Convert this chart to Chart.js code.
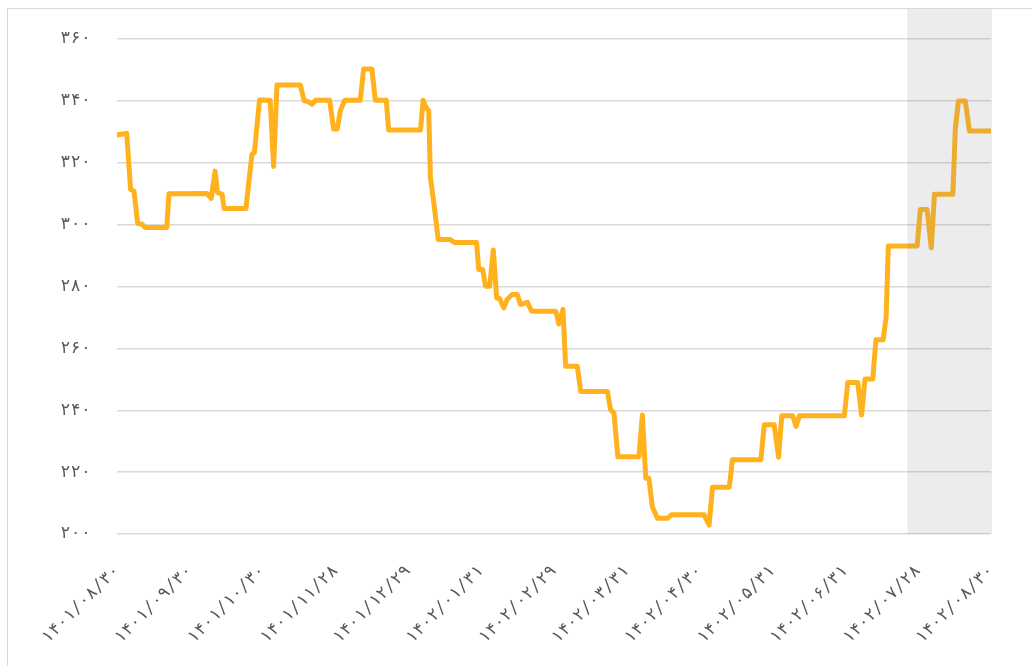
<!DOCTYPE html>
<html lang="fa">
<head>
    <meta charset="UTF-8">
    <title>Price Chart</title>
    <script src="https://cdn.jsdelivr.net/npm/chart.js"></script>
    <style>
        body { margin: 0; background: #fff; overflow: hidden; }
        /* рамка вокруг графика: видны только верх и левый край */
        .frame {
            position: absolute; left: 7px; top: 8px;
            width: 1100px; height: 700px;
            border: 1px solid #d9d9d9;
        }
        .chart-container {
            position: absolute; left: 0; top: 0;
            width: 1032px; height: 666px;
        }
    </style>
</head>
<body>
    <div class="frame"></div>
    <div class="chart-container">
        <canvas id="priceChart"></canvas>
    </div>

    <script>
        // tick labels on the x axis (every 30 days)
        const xTickLabels = [
            '۱۴۰۱/۰۸/۳۰', '۱۴۰۱/۰۹/۳۰', '۱۴۰۱/۱۰/۳۰', '۱۴۰۱/۱۱/۲۸', '۱۴۰۱/۱۲/۲۹',
            '۱۴۰۲/۰۱/۳۱', '۱۴۰۲/۰۲/۲۹', '۱۴۰۲/۰۳/۳۱', '۱۴۰۲/۰۴/۳۰', '۱۴۰۲/۰۵/۳۱',
            '۱۴۰۲/۰۶/۳۱', '۱۴۰۲/۰۷/۲۸', '۱۴۰۲/۰۸/۳۰'
        ];

        // day number of each turning point of the line
        const days = [
            0, 4, 5.6, 7, 8.5, 10.3, 11.5, 20.5, 21.4, 37,
            38.8, 40.4, 41.4, 43.3, 44.1, 53.1, 55.6, 56.6, 58.7, 63.1,
            64.5, 65.9, 75.5, 77.1, 78.4, 80.3, 81.7, 87.6, 89.2, 90.7,
            92, 93.8, 100.2, 101.6, 105, 106.4, 110.9, 111.9, 125, 126.1,
            127.2, 128.4, 129.1, 130.5, 132.3, 137.1, 139.1, 148.1, 149, 150.6,
            151.8, 153.5, 155, 156.4, 157.6, 159.3, 160.7, 162.8, 164.9, 166.2,
            169, 170.8, 180.7, 182, 183.7, 184.8, 189.6, 191, 202, 203.3,
            204.7, 206.3, 215, 216.4, 217.8, 219.1, 220.5, 222.6, 226.7, 228.4,
            241.8, 243.9, 245.3, 252.2, 253.5, 265.2, 266.6, 270.7, 272.5, 273.8,
            278.3, 279.7, 281.1, 299.6, 301, 305.1, 306.7, 308.1, 311.3, 312.6,
            315.6, 316.8, 317.7, 329.6, 330.9, 333.7, 335.4, 336.7, 344.3, 345.3,
            346.6, 349.4, 351.1, 360
        ];

        // price at each turning point
        const prices = [
            329, 329.5, 311.4, 310.8, 300.4, 300.1, 299.1, 299.1, 310, 310.1,
            308.5, 317.3, 310.4, 309.8, 305.2, 305.2, 322.8, 323.3, 340.3, 340.2,
            318.8, 345.1, 345.1, 340, 339.9, 338.9, 340.2, 340.2, 330.9, 330.9,
            336.8, 340.2, 340.2, 350.3, 350.3, 340.2, 340.2, 330.6, 330.6, 340.2,
            338, 336.8, 315.2, 307.1, 295.2, 295.2, 294.2, 294.2, 285.5, 285.5,
            280.1, 280.1, 291.8, 276.3, 276.1, 273.1, 275.8, 277.4, 277.4, 274.2,
            274.9, 272, 272, 267.9, 272.6, 254.2, 254.2, 246.1, 246.1, 240.2,
            239.1, 225, 225, 238.5, 218, 218, 208.8, 205.1, 205.1, 206.2,
            206.2, 202.9, 215.1, 215.1, 224, 224, 235.3, 235.3, 224.8, 238.2,
            238.2, 234.8, 238.2, 238.2, 249, 249, 238.5, 250.1, 250.1, 262.8,
            262.8, 270.2, 293.1, 293.1, 304.9, 304.9, 292.5, 309.8, 309.8, 330.9,
            340, 340, 330.3, 330.3
        ];

        // shaded period at the right end (from this day to the end)
        const shadeFromDay = 325.5;

        const faDigits = '۰۱۲۳۴۵۶۷۸۹';
        const toFa = n => String(n).replace(/\d/g, d => faDigits[d]);

        // серый прямоугольник поверх линии
        const shadePlugin = {
            id: 'shade',
            afterDatasetsDraw(chart) {
                const { ctx, chartArea, scales } = chart;
                const x0 = scales.x.getPixelForValue(shadeFromDay);
                ctx.save();
                ctx.fillStyle = 'rgba(140, 140, 140, 0.17)';
                ctx.fillRect(x0, 9, chartArea.right + 1 - x0, chartArea.bottom - 9);
                ctx.restore();
            }
        };

        const ctx = document.getElementById('priceChart').getContext('2d');
        new Chart(ctx, {
            type: 'line',
            data: {
                datasets: [{
                    data: days.map((d, i) => ({ x: d, y: prices[i] })),
                    borderColor: '#FFB21E',
                    borderWidth: 5,
                    borderJoinStyle: 'round',
                    borderCapStyle: 'round',
                    pointRadius: 0,
                    tension: 0,
                    fill: false
                }]
            },
            options: {
                responsive: true,
                maintainAspectRatio: false,
                animation: false,
                layout: { padding: { left: 0, right: 41, top: 39, bottom: 0 } },
                plugins: {
                    legend: { display: false },
                    tooltip: { enabled: false }
                },
                scales: {
                    x: {
                        type: 'linear',
                        min: 0,
                        max: 360,
                        afterBuildTicks: scale => {
                            scale.ticks = xTickLabels.map((_, i) => ({ value: i * 30 }));
                        },
                        afterFit: scale => { scale.height = 132; },
                        grid: { display: false },
                        border: { display: false },
                        ticks: {
                            autoSkip: false,
                            minRotation: 45,
                            maxRotation: 45,
                            padding: 19,
                            color: '#595959',
                            font: { size: 17, family: '"DejaVu Sans Mono", "DejaVu Sans"' },
                            callback: v => xTickLabels[Math.round(v / 30)]
                        }
                    },
                    y: {
                        min: 200,
                        max: 360,
                        afterFit: scale => { scale.width = 117; },
                        grid: { color: '#d9d9d9', lineWidth: 1.5, drawTicks: false },
                        border: { display: false },
                        ticks: {
                            stepSize: 20,
                            padding: 26,
                            color: '#595959',
                            font: { size: 17, family: '"DejaVu Sans Mono", "DejaVu Sans"' },
                            callback: v => toFa(v)
                        }
                    }
                }
            },
            plugins: [shadePlugin]
        });
    </script>
</body>
</html>
